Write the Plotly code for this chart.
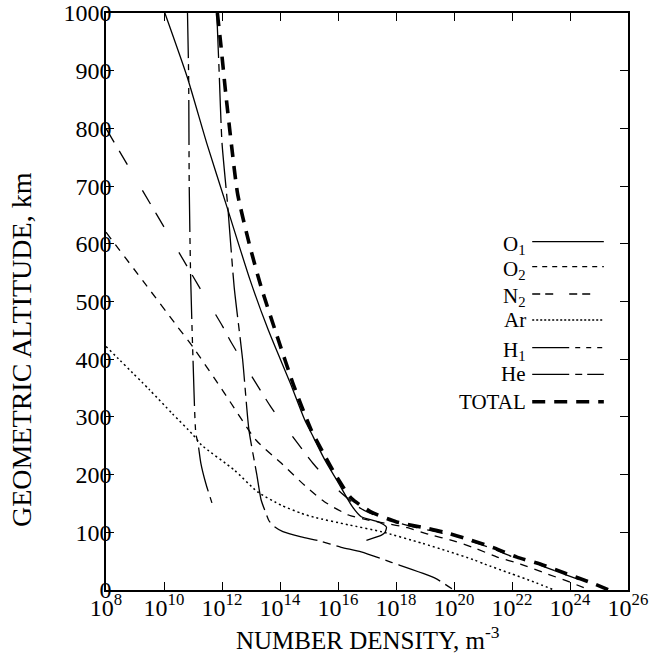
import numpy as np
import plotly.graph_objects as go

# ---- data: altitude (km) and log10 of number density (m^-3) ----
o1_alt = [1000, 889, 775, 664, 537, 450, 359, 295, 265, 225, 185, 144, 127, 118, 109, 100, 95, 86]
o1_log = [10.03, 10.8, 11.47, 12.17, 12.97, 13.6, 14.35, 14.85, 15.15, 15.55, 16.02, 16.5, 16.8, 17.39, 17.67, 17.62, 17.5, 16.98]

o2_alt = [620, 534, 456, 421, 340, 260, 220, 179, 153, 130, 121, 116, 108, 100, 95, 87, 73, 57, 45, 29, 14, 0]
o2_log = [8.0, 9.3, 10.47, 11.0, 12.1, 13.17, 14.04, 14.9, 15.53, 16.36, 17.05, 17.6, 18.4, 18.9, 19.23, 19.86, 20.7, 21.49, 22.29, 23.15, 23.98, 24.67]

n2_alt = [800, 700, 600, 500, 457, 428, 317, 265, 217, 173, 144, 133, 121, 110, 100, 87, 73, 57, 45, 29, 14, 0]
n2_log = [8.0, 9.17, 10.34, 11.51, 12.02, 12.33, 13.69, 14.45, 15.18, 16.01, 16.7, 17.1, 17.75, 18.55, 19.45, 20.42, 21.26, 22.05, 22.85, 23.71, 24.54, 25.23]

ar_alt = [422, 347, 306, 269, 251, 208, 170, 147, 133, 126, 113, 101, 81, 67, 52, 45, 29, 14, 0]
ar_log = [8.0, 9.5, 10.28, 11.0, 11.3, 12.42, 13.23, 14.04, 14.73, 15.18, 16.36, 17.5, 18.9, 19.8, 20.7, 21.05, 21.93, 22.75, 23.45]

h1_alt = [1000, 889, 700, 540, 400, 270, 255, 220, 185, 150]
h1_log = [10.81, 10.85, 10.87, 10.92, 11.0, 11.1, 11.17, 11.27, 11.44, 11.66]

he_alt = [1000, 900, 775, 664, 525, 400, 277, 200, 156, 135, 120, 110, 101, 92, 85, 74, 66, 48, 21, 0]
he_log = [11.82, 11.9, 12.0, 12.2, 12.42, 12.71, 12.93, 13.2, 13.35, 13.5, 13.62, 13.8, 14.1, 14.73, 15.36, 16.11, 16.8, 17.84, 19.33, 19.99]

total_alt = [1000, 945, 860, 770, 686, 600, 525, 440, 352, 277, 234, 194, 159, 135, 118, 109, 100, 87, 73, 57, 45, 29, 14, 0]
total_log = [11.84, 11.96, 12.13, 12.33, 12.54, 12.94, 13.35, 13.9, 14.49, 15.08, 15.53, 15.98, 16.46, 17.15, 18.02, 18.88, 19.68, 20.54, 21.38, 22.17, 22.97, 23.83, 24.66, 25.35]

x_tick_exponents = [8, 10, 12, 14, 16, 18, 20, 22, 24, 26]
y_tick_values = [0, 100, 200, 300, 400, 500, 600, 700, 800, 900, 1000]

legend_labels = ["O<sub>1</sub>", "O<sub>2</sub>", "N<sub>2</sub>", "Ar", "H<sub>1</sub>", "He", "TOTAL"]

# ---- styles ----
FONT = "Liberation Serif"
styles = [
    dict(width=1.3, dash="solid"),
    dict(width=1.3, dash="8px,7px"),
    dict(width=1.3, dash="16px,10px,16px,30px"),
    dict(width=1.5, dash="2px,3px"),
    dict(width=1.3, dash="45px,6px,6px,6px,6px,6px,6px,6px"),
    dict(width=1.3, dash="45px,6px,8px,6px"),
    dict(width=3.6, dash="13px,9px"),
]
legend_styles = [
    dict(width=1.3, dash="solid"),
    dict(width=1.3, dash="5px,5px"),
    dict(width=1.3, dash="8px,5px,8px,16px"),
    dict(width=1.3, dash="2px,2px"),
    dict(width=1.3, dash="37px,6px,5px,6px,5px,6px,5px,6px"),
    dict(width=1.3, dash="37px,6px,7px,5px"),
    dict(width=3.6, dash="13px,9px"),
]

series = [
    (o1_alt, o1_log),
    (o2_alt, o2_log),
    (n2_alt, n2_log),
    (ar_alt, ar_log),
    (h1_alt, h1_log),
    (he_alt, he_log),
    (total_alt, total_log),
]

fig = go.Figure()
for (alt, lg), st, name in zip(series, styles, legend_labels):
    fig.add_trace(go.Scatter(
        x=np.power(10.0, lg), y=alt, mode="lines", name=name,
        line=dict(color="black", width=st["width"], dash=st["dash"], shape="spline", smoothing=0.6),
        showlegend=False, hoverinfo="skip",
    ))

# manual legend: label on the left, line sample on the right
row_y = [0.6036, 0.5603, 0.5130, 0.4679, 0.4199, 0.3738, 0.3263]
for lab, st, yy in zip(legend_labels, legend_styles, row_y):
    has_sub = "<sub>" in lab
    fig.add_annotation(x=0.8075, y=yy, xref="paper", yref="paper", text=lab,
                       showarrow=False, xanchor="right", yanchor="middle",
                       yshift=-3 if has_sub else 0,
                       font=dict(family=FONT, size=21, color="black"))
    fig.add_shape(type="line", xref="paper", yref="paper", x0=0.8165, x1=0.9537, y0=yy, y1=yy,
                  line=dict(color="black", width=st["width"], dash=st["dash"]))

# axis titles
fig.add_annotation(x=0, y=0.416, xref="paper", yref="paper", text="GEOMETRIC ALTITUDE, km",
                   textangle=-90, showarrow=False, xanchor="center", yanchor="middle", xshift=-84,
                   font=dict(family=FONT, size=28, color="black"))
fig.add_annotation(x=0.501, y=0, xref="paper", yref="paper", text="NUMBER DENSITY, m<sup>-3</sup>",
                   showarrow=False, xanchor="center", yanchor="middle", yshift=-48,
                   font=dict(family=FONT, size=25, color="black"))

axis_common = dict(showline=True, linecolor="black", linewidth=1.5, mirror="ticks",
                   ticks="inside", ticklen=8, tickwidth=1.3, tickcolor="black",
                   showgrid=False, zeroline=False, automargin=False,
                   tickfont=dict(family=FONT, size=24, color="black"))

fig.update_layout(
    width=667, height=662,
    margin=dict(l=106, r=39, t=13, b=72),
    paper_bgcolor="white", plot_bgcolor="white",
    font=dict(family=FONT, color="black"),
    xaxis=dict(type="log", range=[8, 26],
               tickvals=[10.0 ** e for e in x_tick_exponents],
               ticktext=[f"10<sup>{e}</sup>" for e in x_tick_exponents],
               ticklabelstandoff=-5,
               **axis_common),
    yaxis=dict(range=[0, 1000], tickvals=y_tick_values,
               ticktext=[str(v) for v in y_tick_values],
               ticklabelstandoff=-12, **axis_common),
)

fig.write_html("out.html", config={"displayModeBar": False},
               post_script="document.body.style.margin='0px';")
